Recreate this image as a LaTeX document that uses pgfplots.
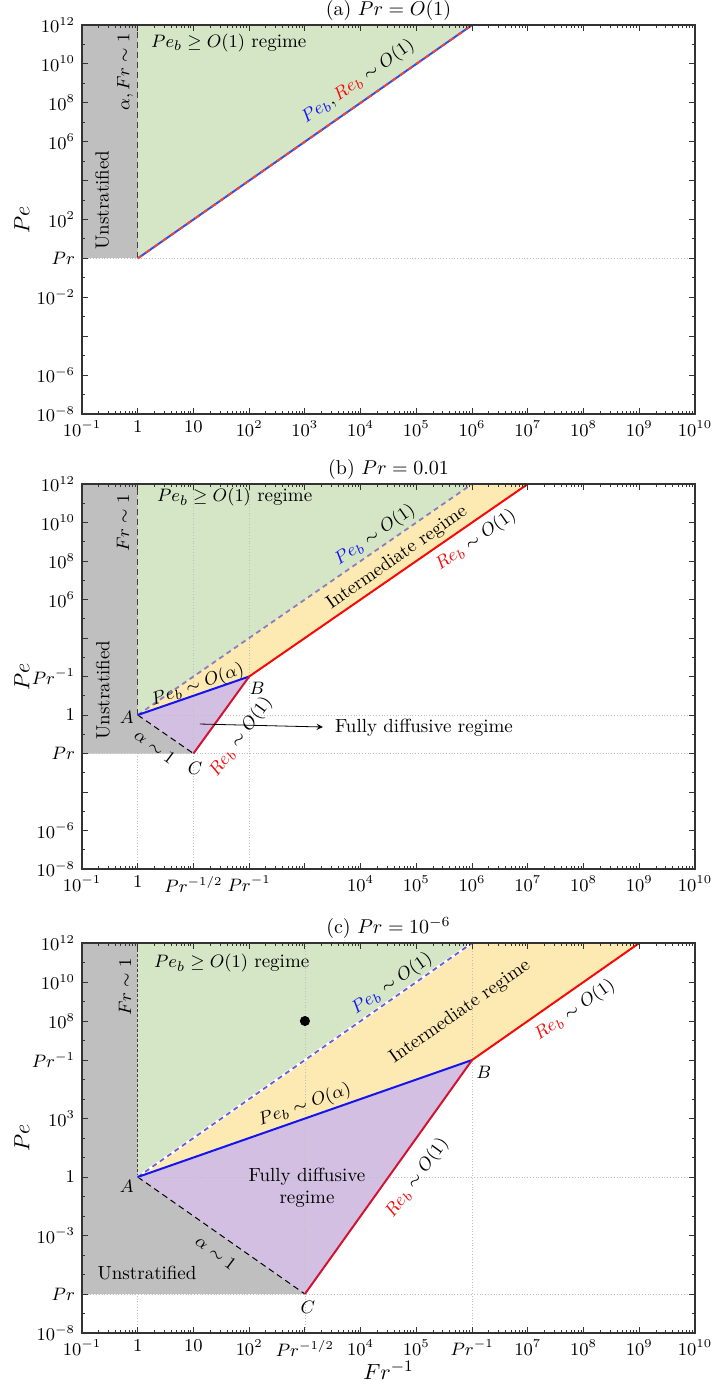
\documentclass[border=0pt]{standalone}
\usepackage{pgfplots}
\pgfplotsset{compat=1.18}
\definecolor{cgreen}{RGB}{212,230,198}
\definecolor{cgray}{RGB}{191,191,191}
\definecolor{cyellow}{RGB}{253,233,178}
\definecolor{cpurple}{RGB}{211,191,226}
\definecolor{cslate}{RGB}{110,92,205}
\definecolor{cslateb}{RGB}{140,125,190}
\definecolor{cblue}{RGB}{20,20,240}
\definecolor{cred}{RGB}{245,10,10}
\definecolor{ccrim}{RGB}{210,20,50}
\definecolor{cblueA}{RGB}{50,80,230}
\definecolor{credA}{RGB}{235,70,55}
\newcommand{\tf}{\fontsize{9.5}{11}\selectfont}
\pgfplotsset{every axis/.append style={
    scale only axis, width=306.5pt,
    axis on top,
    axis line style={black!80, line width=0.9pt},
    tick style={black!80, line width=0.5pt},
    major tick length=3pt, minor tick length=1.6pt,
    tick label style={font=\fontsize{9}{10}\selectfont},
    every axis title/.style={at={(0.5,1)}, anchor=south, inner sep=2pt, font=\fontsize{10}{12}\selectfont},
    label style={font=\fontsize{11}{13}\selectfont},
    ylabel={$Pe$},
    ylabel style={at={(axis description cs:-0.098,0.5)}, anchor=center},
}}
\begin{document}
\begin{tikzpicture}
\useasboundingbox (0pt,0pt) rectangle (356pt,-692.5pt);

% ---------------- (a)
\begin{axis}[at={(41pt,-207pt)}, anchor=south west, height=194.5pt,
  xmode=log, ymode=log,
  xmin=1e-1, xmax=1e10, ymin=1e-8, ymax=1e12,
  xtick={1e-1,1,1e1,1e2,1e3,1e4,1e5,1e6,1e7,1e8,1e9,1e10},
  minor xtick={2e-1,3e-1,4e-1,5e-1,6e-1,7e-1,8e-1,9e-1,2,3,4,5,6,7,8,9,20,30,40,50,60,70,80,90,2e2,3e2,4e2,5e2,6e2,7e2,8e2,9e2,2e3,3e3,4e3,5e3,6e3,7e3,8e3,9e3,2e4,3e4,4e4,5e4,6e4,7e4,8e4,9e4,2e5,3e5,4e5,5e5,6e5,7e5,8e5,9e5,2e6,3e6,4e6,5e6,6e6,7e6,8e6,9e6,2e7,3e7,4e7,5e7,6e7,7e7,8e7,9e7,2e8,3e8,4e8,5e8,6e8,7e8,8e8,9e8,2e9,3e9,4e9,5e9,6e9,7e9,8e9,9e9},
  title={(a) $Pr = O(1)$},
  xticklabels={$10^{-1}$,$1$,$10$,$10^{2}$,$10^{3}$,$10^{4}$,$10^{5}$,$10^{6}$,$10^{7}$,$10^{8}$,$10^{9}$,$10^{10}$},
  ytick={1e-8,1e-6,1e-4,1e-2,1,1e2,1e4,1e6,1e8,1e10,1e12},
  yticklabels={$10^{-8}$,$10^{-6}$,,$10^{-2}$,$Pr$,$10^{2}$,,$10^{6}$,$10^{8}$,$10^{10}$,$10^{12}$},
  minor ytick={1e-7,1e-5,1e-3,1e-1,1e1,1e3,1e5,1e7,1e9,1e11},
]
\addplot[draw=none, fill=cgray] coordinates {(1e-1,1) (1e-1,1e12) (1,1e12) (1,1)} -- cycle;
\addplot[draw=none, fill=cgreen] coordinates {(1,1) (1,1e12) (1e6,1e12)} -- cycle;
\addplot[gray!50, line width=0.4pt, densely dotted] coordinates {(1e-1,1) (1e10,1)};
\addplot[black!75, line width=0.5pt, densely dashed] coordinates {(1,1) (1,1e12)};
\addplot[cblueA, line width=1pt] coordinates {(1,1) (1e6,1e12)};
\addplot[credA, line width=1pt, dash pattern=on 2.5pt off 2.5pt] coordinates {(1,1) (1e6,1e12)};
\node[anchor=west, font=\tf] at (axis cs:1.3,1.2e11) {$Pe_b \geq O(1)$ regime};
\node[rotate=90, font=\tf] at (axis cs:0.59,3.8e9) {$\alpha, Fr \sim 1$};
\node[rotate=90, font=\tf] at (axis cs:0.229,1e3) {Unstratified};
\node[rotate=35, font=\tf] at (axis cs:9e3,1.2e9) {\textcolor{cblue}{$Pe_b$},\,\textcolor{cred}{$Re_b$}${}\sim O(1)$};
\end{axis}

% ---------------- (b)
\begin{axis}[at={(41pt,-434.5pt)}, anchor=south west, height=192.5pt,
  xmode=log, ymode=log,
  xmin=1e-1, xmax=1e10, ymin=1e-8, ymax=1e12,
  xtick={1e-1,1,1e1,1e2,1e3,1e4,1e5,1e6,1e7,1e8,1e9,1e10},
  minor xtick={2e-1,3e-1,4e-1,5e-1,6e-1,7e-1,8e-1,9e-1,2,3,4,5,6,7,8,9,20,30,40,50,60,70,80,90,2e2,3e2,4e2,5e2,6e2,7e2,8e2,9e2,2e3,3e3,4e3,5e3,6e3,7e3,8e3,9e3,2e4,3e4,4e4,5e4,6e4,7e4,8e4,9e4,2e5,3e5,4e5,5e5,6e5,7e5,8e5,9e5,2e6,3e6,4e6,5e6,6e6,7e6,8e6,9e6,2e7,3e7,4e7,5e7,6e7,7e7,8e7,9e7,2e8,3e8,4e8,5e8,6e8,7e8,8e8,9e8,2e9,3e9,4e9,5e9,6e9,7e9,8e9,9e9},
  title={(b) $Pr = 0.01$},
  xticklabels={$10^{-1}$,$1$,$Pr^{-1/2}$,$Pr^{-1}$,,$10^{4}$,$10^{5}$,$10^{6}$,$10^{7}$,$10^{8}$,$10^{9}$,$10^{10}$},
  ytick={1e-8,1e-6,1e-4,1e-2,1,1e2,1e4,1e6,1e8,1e10,1e12},
  yticklabels={$10^{-8}$,$10^{-6}$,,$Pr$,$1$,$Pr^{-1}$,,$10^{6}$,$10^{8}$,$10^{10}$,$10^{12}$},
  minor ytick={1e-7,1e-5,1e-3,1e-1,1e1,1e3,1e5,1e7,1e9,1e11},
]
\addplot[draw=none, fill=cgray] coordinates {(1e-1,1e-2) (1e-1,1e12) (1,1e12) (1,1) (10,1e-2)} -- cycle;
\addplot[draw=none, fill=cgreen] coordinates {(1,1) (1,1e12) (1e6,1e12)} -- cycle;
\addplot[draw=none, fill=cyellow] coordinates {(1,1) (1e6,1e12) (1e7,1e12) (100,100)} -- cycle;
\addplot[draw=none, fill=cpurple] coordinates {(1,1) (100,100) (10,1e-2)} -- cycle;
\addplot[gray!50, line width=0.4pt, densely dotted] coordinates {(1,1e-8) (1,1e12)};
\addplot[gray!50, line width=0.4pt, densely dotted] coordinates {(10,1e-8) (10,1e12)};
\addplot[gray!50, line width=0.4pt, densely dotted] coordinates {(100,1e-8) (100,1e12)};
\addplot[gray!50, line width=0.4pt, densely dotted] coordinates {(1e-1,1) (1e10,1)};
\addplot[gray!50, line width=0.4pt, densely dotted] coordinates {(1e-1,1e-2) (1e10,1e-2)};
\addplot[black!75, line width=0.5pt, densely dashed] coordinates {(1,1) (1,1e12)};
\addplot[black, line width=0.5pt, densely dashed] coordinates {(1,1) (10,1e-2)};
\addplot[cslateb, line width=0.9pt, dash pattern=on 2.5pt off 2pt] coordinates {(1,1) (1e6,1e12)};
\addplot[cblue, line width=1pt] coordinates {(1,1) (100,100)};
\addplot[cred, line width=1pt] coordinates {(100,100) (1e7,1e12)};
\addplot[ccrim, line width=1pt] coordinates {(10,1e-2) (100,100)};
\addplot[black, line width=0.4pt, -stealth] coordinates {(13.1,0.34) (2.1e3,0.238)};
\node[anchor=west, font=\tf] at (axis cs:1.66,2.1e11) {$Pe_b \geq O(1)$ regime};
\node[rotate=90, font=\tf] at (axis cs:0.545,9.3e9) {$Fr \sim 1$};
\node[rotate=90, font=\tf] at (axis cs:0.238,20) {Unstratified};
\node[rotate=35, font=\tf] at (axis cs:1.81e4,2.2e9) {\textcolor{cblue}{$Pe_b$}${}\sim O(1)$};
\node[rotate=35, font=\tf] at (axis cs:4.5e4,1.43e8) {Intermediate regime};
\node[rotate=35, font=\tf] at (axis cs:1.17e6,1.2e9) {\textcolor{cred}{$Re_b$}${}\sim O(1)$};
\node[rotate=19, font=\tf] at (axis cs:12,36) {$Pe_b \sim O(\alpha)$};
\node[font=\tf] at (axis cs:138,25) {$B$};
\node[font=\tf] at (axis cs:0.64,0.79) {$A$};
\node[font=\tf] at (axis cs:10.7,1.78e-3) {$C$};
\node[rotate=-37, font=\tf] at (axis cs:2.04,0.022) {$\alpha \sim 1$};
\node[rotate=54, font=\tf] at (axis cs:71.3,0.072) {\textcolor{cred}{$Re_b$}${}\sim O(1)$};
\node[anchor=west, font=\tf] at (axis cs:2.6e3,0.21) {Fully diffusive regime};
\end{axis}

% ---------------- (c)
\begin{axis}[at={(41pt,-666.5pt)}, anchor=south west, height=195pt,
  xmode=log, ymode=log,
  xmin=1e-1, xmax=1e10, ymin=1e-8, ymax=1e12,
  xtick={1e-1,1,1e1,1e2,1e3,1e4,1e5,1e6,1e7,1e8,1e9,1e10},
  minor xtick={2e-1,3e-1,4e-1,5e-1,6e-1,7e-1,8e-1,9e-1,2,3,4,5,6,7,8,9,20,30,40,50,60,70,80,90,2e2,3e2,4e2,5e2,6e2,7e2,8e2,9e2,2e3,3e3,4e3,5e3,6e3,7e3,8e3,9e3,2e4,3e4,4e4,5e4,6e4,7e4,8e4,9e4,2e5,3e5,4e5,5e5,6e5,7e5,8e5,9e5,2e6,3e6,4e6,5e6,6e6,7e6,8e6,9e6,2e7,3e7,4e7,5e7,6e7,7e7,8e7,9e7,2e8,3e8,4e8,5e8,6e8,7e8,8e8,9e8,2e9,3e9,4e9,5e9,6e9,7e9,8e9,9e9},
  title={(c) $Pr = 10^{-6}$},
  xlabel={$Fr^{-1}$},
  xlabel style={at={(axis description cs:0.5,-0.095)}, anchor=center},
  xticklabels={$10^{-1}$,$1$,$10$,$10^{2}$,$Pr^{-1/2}$,$10^{4}$,$10^{5}$,$Pr^{-1}$,$10^{7}$,$10^{8}$,$10^{9}$,$10^{10}$},
  ytick={1e-8,1e-6,1e-3,1,1e3,1e6,1e8,1e10,1e12},
  yticklabels={$10^{-8}$,$Pr$,$10^{-3}$,$1$,$10^{3}$,$Pr^{-1}$,$10^{8}$,$10^{10}$,$10^{12}$},
  minor ytick={1e-7,1e-5,1e-4,1e-2,1e-1,1e1,1e2,1e4,1e5,1e7,1e9,1e11},
]
\addplot[draw=none, fill=cgray] coordinates {(1e-1,1e-6) (1e-1,1e12) (1,1e12) (1,1) (1e3,1e-6)} -- cycle;
\addplot[draw=none, fill=cgreen] coordinates {(1,1) (1,1e12) (1e6,1e12)} -- cycle;
\addplot[draw=none, fill=cyellow] coordinates {(1,1) (1e6,1e12) (1e9,1e12) (1e6,1e6)} -- cycle;
\addplot[draw=none, fill=cpurple] coordinates {(1,1) (1e6,1e6) (1e3,1e-6)} -- cycle;
\addplot[gray!50, line width=0.4pt, densely dotted] coordinates {(1,1e-8) (1,1e12)};
\addplot[gray!50, line width=0.4pt, densely dotted] coordinates {(1e3,1e-8) (1e3,1e12)};
\addplot[gray!50, line width=0.4pt, densely dotted] coordinates {(1e6,1e-8) (1e6,1e12)};
\addplot[gray!50, line width=0.4pt, densely dotted] coordinates {(1e-1,1) (1e10,1)};
\addplot[gray!50, line width=0.4pt, densely dotted] coordinates {(1e-1,1e-6) (1e10,1e-6)};
\addplot[black!75, line width=0.5pt, dash pattern=on 1.5pt off 1pt] coordinates {(1,1) (1,1e12)};
\addplot[black, line width=0.5pt, densely dashed] coordinates {(1,1) (1e3,1e-6)};
\addplot[white, line width=1.4pt] coordinates {(1,1) (1e6,1e12)};
\addplot[cslate, line width=0.9pt, dash pattern=on 2.5pt off 2pt] coordinates {(1,1) (1e6,1e12)};
\addplot[cblue, line width=1pt] coordinates {(1,1) (1e6,1e6)};
\addplot[cred, line width=1pt] coordinates {(1e6,1e6) (1e9,1e12)};
\addplot[ccrim, line width=1pt] coordinates {(1e3,1e-6) (1e6,1e6)};
\addplot[only marks, mark=*, mark size=2.3pt, black] coordinates {(1e3,1e8)};
\node[anchor=west, font=\tf] at (axis cs:1.47,9.4e10) {$Pe_b \geq O(1)$ regime};
\node[rotate=90, font=\tf] at (axis cs:0.59,5.5e9) {$Fr \sim 1$};
\node[rotate=35, font=\tf] at (axis cs:3.65e4,7.9e9) {\textcolor{cblue}{$Pe_b$}${}\sim O(1)$};
\node[rotate=35, font=\tf] at (axis cs:6.1e5,2.9e8) {Intermediate regime};
\node[rotate=35, font=\tf] at (axis cs:7e7,3.6e8) {\textcolor{cred}{$Re_b$}${}\sim O(1)$};
\node[rotate=19, font=\tf] at (axis cs:1e3,4.9e3) {$Pe_b \sim O(\alpha)$};
\node[font=\tf] at (axis cs:1.63e6,2.4e5) {$B$};
\node[font=\tf] at (axis cs:0.64,0.35) {$A$};
\node[font=\tf] at (axis cs:1.13e3,2.1e-7) {$C$};
\node[font=\tf, align=center] at (axis cs:1.09e3,0.27) {Fully diffusive\\regime};
\node[rotate=-37, font=\tf] at (axis cs:25.4,1.26e-4) {$\alpha \sim 1$};
\node[font=\tf] at (axis cs:1.47,1.2e-5) {Unstratified};
\node[rotate=54, font=\tf] at (axis cs:1.03e5,0.89) {\textcolor{cred}{$Re_b$}${}\sim O(1)$};
\end{axis}
\end{tikzpicture}
\end{document}
